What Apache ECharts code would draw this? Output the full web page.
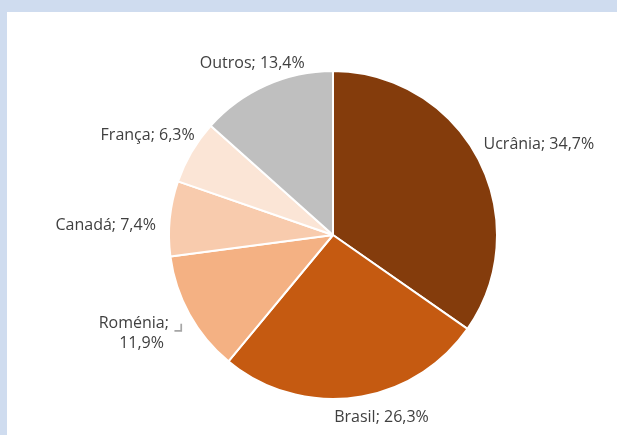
<!DOCTYPE html>
<html><head><meta charset="utf-8">
<script src="https://cdn.jsdelivr.net/npm/echarts@6/dist/echarts.min.js"></script>
<style>
html,body{margin:0;padding:0;background:#cfdcef;width:617px;height:435px;overflow:hidden;}
#c{position:absolute;left:7px;top:12px;width:610px;height:423px;background:#ffffff;}
</style></head><body>
<div id="c"></div>
<script>
const categories = ['Ucrânia', 'Brasil', 'Roménia', 'Canadá', 'França', 'Outros'];
const values = [34.7, 26.3, 11.9, 7.4, 6.3, 13.4];
const colors = ['#843c0c', '#c55a11', '#f4b183', '#f8cbad', '#fbe5d6', '#bfbfbf'];

// label nudges (text placement only)
const labelShift = [[-7, -11], [-27, 12], [-36, 15], [-1, 8], [15, -12], [47, -15]];

const fmt = v => v.toFixed(1).replace('.', ',') + '%';
const chart = echarts.init(document.getElementById('c'));
chart.setOption({
  animation: false,
  series: [{
    type: 'pie',
    center: [326, 223],
    radius: 164,
    startAngle: 90,
    clockwise: true,
    data: categories.map((n, i) => ({ name: n, value: values[i], itemStyle: { color: colors[i] } })),
    itemStyle: { borderColor: '#ffffff', borderWidth: 2 },
    label: {
      show: true,
      position: 'outside',
      fontFamily: 'Open Sans',
      fontSize: 16,
      color: '#404040',
      formatter: p => p.name === 'Roménia' ? p.name + '; {m|⌟}\n' + fmt(p.value) : p.name + '; ' + fmt(p.value),
      rich: { m: { color: '#a6a6a6', fontSize: 24, fontFamily: 'DejaVu Sans', lineHeight: 20, padding: [0, 0, 0, 0] } },
      lineHeight: 20
    },
    labelLine: { show: false, length: 8, length2: 0 },
    labelLayout: p => {
      const s = labelShift[p.dataIndex];
      const o = { dx: s[0], dy: s[1] };
      if (p.dataIndex === 2) o.align = 'center';
      return o;
    }
  }]
});
</script>
</body></html>
